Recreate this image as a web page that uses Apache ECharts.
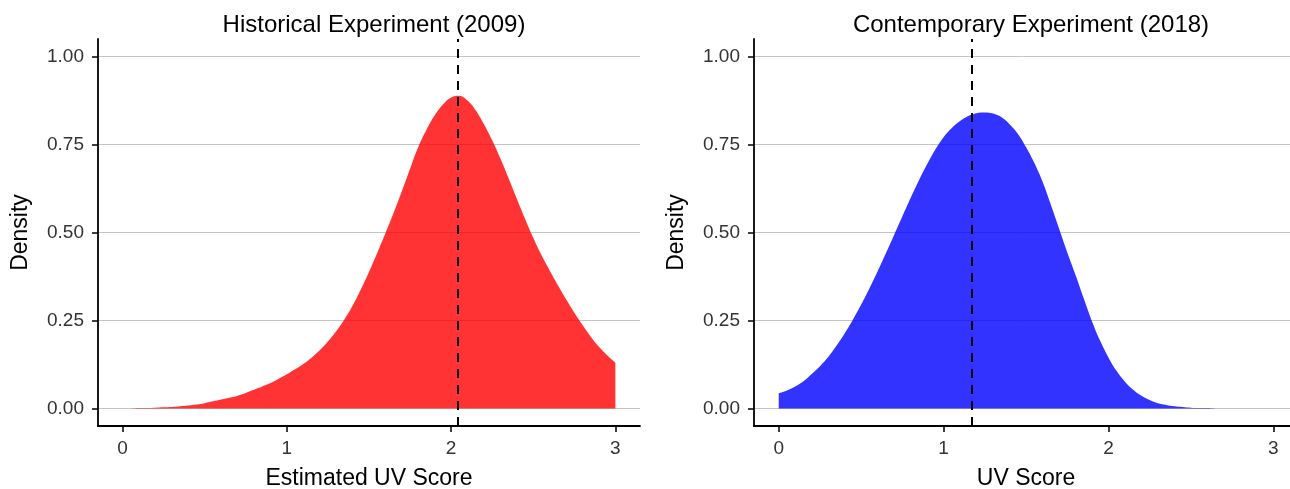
<!DOCTYPE html>
<html><head><meta charset="utf-8">
<script src="https://cdn.jsdelivr.net/npm/echarts@6/dist/echarts.min.js"></script>
<style>html,body{margin:0;padding:0;background:#fff}#c{width:1290px;height:489px}</style>
</head><body><div id="c"></div>
<script>
// ---- data ----
const panelTitles = ['Historical Experiment (2009)', 'Contemporary Experiment (2018)'];
const xNames = ['Estimated UV Score', 'UV Score'];
const xTicks = [0, 1, 2, 3];
const yTicks = [0, 0.25, 0.5, 0.75, 1];

// x positions of the density estimates (both panels)
const gridX = [0.00, 0.05, 0.10, 0.15, 0.20, 0.25, 0.30, 0.35, 0.40, 0.45,
               0.50, 0.55, 0.60, 0.65, 0.70, 0.75, 0.80, 0.85, 0.90, 0.95,
               1.00, 1.05, 1.10, 1.15, 1.20, 1.25, 1.30, 1.35, 1.40, 1.45,
               1.50, 1.55, 1.60, 1.65, 1.70, 1.75, 1.80, 1.85, 1.90, 1.95,
               2.00, 2.05, 2.10, 2.15, 2.20, 2.25, 2.30, 2.35, 2.40, 2.45,
               2.50, 2.55, 2.60, 2.65, 2.70, 2.75, 2.80, 2.85, 2.90, 2.95, 3.00];

const histY = [0.000, 0.000, 0.001, 0.001, 0.002, 0.003, 0.004, 0.006, 0.008, 0.011,
               0.015, 0.020, 0.025, 0.030, 0.036, 0.044, 0.053, 0.062, 0.072, 0.084,
               0.097, 0.111, 0.126, 0.144, 0.165, 0.190, 0.219, 0.253, 0.292, 0.338,
               0.388, 0.442, 0.498, 0.556, 0.617, 0.681, 0.743, 0.792, 0.833, 0.864,
               0.884, 0.889, 0.875, 0.847, 0.808, 0.762, 0.710, 0.654, 0.596, 0.539,
               0.485, 0.436, 0.392, 0.350, 0.310, 0.272, 0.237, 0.204, 0.175, 0.151, 0.130];
const histMean = 2.04;

const contY = [0.043, 0.051, 0.062, 0.077, 0.098, 0.120, 0.146, 0.178, 0.213, 0.252,
               0.295, 0.341, 0.390, 0.441, 0.493, 0.546, 0.598, 0.648, 0.694, 0.736,
               0.771, 0.797, 0.817, 0.831, 0.839, 0.841, 0.838, 0.828, 0.808, 0.781,
               0.743, 0.698, 0.645, 0.580, 0.512, 0.444, 0.380, 0.313, 0.248, 0.192,
               0.145, 0.106, 0.076, 0.053, 0.036, 0.024, 0.015, 0.010, 0.006, 0.004,
               0.002, 0.001, 0.001, 0.000, 0.000, 0.000, 0.000, 0.000, 0.000, 0.000, 0.000];
const contMean = 1.17;

const FONT = "'Liberation Sans', Arial, Helvetica, sans-serif";
const zip = (xs, ys) => xs.map((x, i) => [x, ys[i]]);

function xAxis(i) {
  return {
    type: 'value', gridIndex: i, min: -0.15, max: 3.15,
    name: xNames[i], nameLocation: 'middle', nameGap: 41,
    nameTextStyle: { fontFamily: FONT, fontSize: 23, color: '#000' },
    axisLine: { onZero: false, lineStyle: { color: '#000', width: 1.8 } },
    axisTick: { customValues: xTicks, length: 6, lineStyle: { color: '#000', width: 1.5 } },
    axisLabel: { customValues: xTicks, margin: 13, fontFamily: FONT, fontSize: 19, color: '#333',
      formatter: v => String(v) },
    splitLine: { show: false }
  };
}
function yAxis(i) {
  return {
    type: 'value', gridIndex: i, min: -0.05, max: 1.05,
    name: 'Density', nameLocation: 'middle', nameGap: 66,
    nameTextStyle: { fontFamily: FONT, fontSize: 23, color: '#000' },
    axisLine: { onZero: false, lineStyle: { color: '#000', width: 1.8 } },
    axisTick: { customValues: yTicks, length: 6, lineStyle: { color: '#000', width: 1.5 } },
    axisLabel: { customValues: yTicks, margin: 14, fontFamily: FONT, fontSize: 19, color: '#333',
      formatter: v => v.toFixed(2) },
    splitLine: { show: true, lineStyle: { color: '#c4c4c4', width: 1 } }
  };
}
function area(i, data, color, mean) {
  return {
    type: 'line', xAxisIndex: i, yAxisIndex: i, data: data,
    smooth: 0.4, showSymbol: false, symbol: 'none', silent: true,
    lineStyle: { width: 0, opacity: 0 },
    areaStyle: { color: color, opacity: 1 },
    z: 2,
    markLine: {
      silent: true, symbol: ['none', 'none'], label: { show: false },
      lineStyle: { color: '#000', width: 2, type: [9, 7] },
      data: [{ xAxis: mean }]
    }
  };
}

const chart = echarts.init(document.getElementById('c'), null, { renderer: 'canvas' });
chart.setOption({
  animation: false,
  backgroundColor: '#fff',
  title: [
    { text: panelTitles[0], left: 369, top: 8, textAlign: 'center',
      textStyle: { fontFamily: FONT, fontSize: 24, fontWeight: 'normal', color: '#000' } },
    { text: panelTitles[1], left: 1026, top: 8, textAlign: 'center',
      textStyle: { fontFamily: FONT, fontSize: 24, fontWeight: 'normal', color: '#000' } }
  ],
  grid: [
    { left: 98, top: 39, width: 542, height: 387, containLabel: false, outerBoundsMode: 'none' },
    { left: 754, top: 39, width: 544, height: 387, containLabel: false, outerBoundsMode: 'none' }
  ],
  xAxis: [xAxis(0), xAxis(1)],
  yAxis: [yAxis(0), yAxis(1)],
  series: [
    area(0, zip(gridX, histY), 'rgba(255,0,0,0.8)', histMean),
    area(1, zip(gridX, contY), 'rgba(0,0,255,0.8)', contMean)
  ]
});
</script></body></html>
